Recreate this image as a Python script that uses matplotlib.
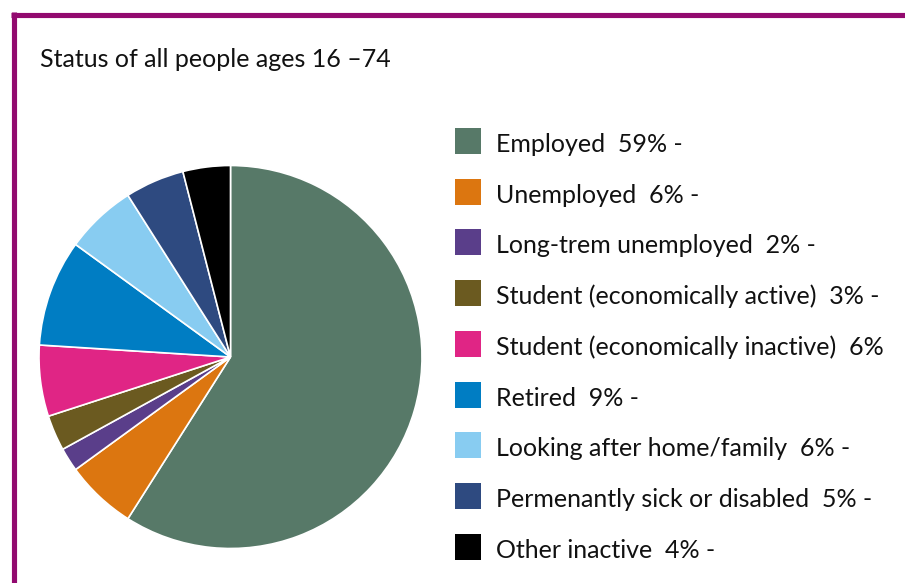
import matplotlib.pyplot as plt
from matplotlib.patches import Rectangle
from matplotlib.lines import Line2D

plt.rcParams['font.family'] = ['Lato', 'DejaVu Sans']

# economic activity of people aged 16-74
categories = ['Employed', 'Unemployed', 'Long-trem unemployed',
              'Student (economically active)', 'Student (economically inactive)',
              'Retired', 'Looking after home/family',
              'Permenantly sick or disabled', 'Other inactive']
shares = [59, 6, 2, 3, 6, 9, 6, 5, 4]
suffixes = [' -', ' -', ' -', ' -', '', ' -', ' -', ' -', ' -']
colors = ['#577968', '#dc7610', '#5a3e8a', '#6b5a20', '#e02585',
          '#007dc3', '#88ccf1', '#2e4a80', '#000000']

W, H = 905, 583
fig = plt.figure(figsize=(W / 100, H / 100), dpi=100)

# pie, centred at (230, 357) px with radius ~191 px
cx, cy, r = 230.5, H - 357, 191.5
ax = fig.add_axes([(cx - r) / W, (cy - r) / H, 2 * r / W, 2 * r / H])
ax.pie(shares, colors=colors, startangle=90, counterclock=False, radius=1,
       wedgeprops=dict(edgecolor='white', linewidth=1.2))
ax.set_xlim(-1, 1)
ax.set_ylim(-1, 1)
ax.set_aspect('equal')
ax.axis('off')

# purple frame along the top and left
purple = '#920a6f'
fig.add_artist(Line2D([11 / W, 1], [1 - 14.5 / H, 1 - 14.5 / H],
                      color=purple, lw=3.7, solid_capstyle='butt'))
fig.add_artist(Line2D([13.5 / W, 13.5 / W], [0, 1 - 12 / H],
                      color=purple, lw=3.7, solid_capstyle='butt'))

fig.text(40 / W, 1 - 67 / H, 'Status of all people ages 16 \u201374',
         fontsize=18, color='#111111', va='baseline', ha='left')

# legend: square swatch + label with share
top, step, size = 128, 50.7, 26
for i, (name, val, suf, col) in enumerate(zip(categories, shares, suffixes, colors)):
    y0 = top + i * step
    fig.add_artist(Rectangle((455 / W, 1 - (y0 + size) / H), size / W, size / H,
                             facecolor=col, edgecolor='none',
                             transform=fig.transFigure))
    fig.text(496 / W, 1 - (y0 + 24) / H, f'{name}  {val}%{suf}',
             fontsize=18, color='#111111', va='baseline', ha='left')

fig.savefig('out.png', dpi=100, facecolor='white')
